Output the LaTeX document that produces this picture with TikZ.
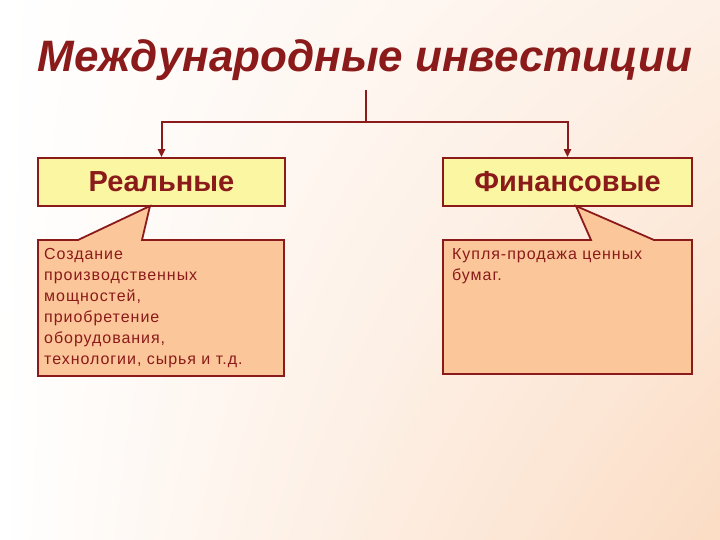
\documentclass[tikz,border=0pt]{standalone}
\usepackage{fontspec}
\setmainfont{Liberation Sans}
\usetikzlibrary{arrows.meta,shadings}
\definecolor{dred}{HTML}{8B1A1A}
\definecolor{ybox}{HTML}{FAF6A2}
\definecolor{peach}{HTML}{FBC79A}
\definecolor{bgr}{HTML}{FBDCC4}
\definecolor{bgm}{HTML}{FDF0E6}
\begin{document}
\begin{tikzpicture}[x=1pt,y=-1pt,
  hbox/.style={draw=dred,line width=1.8pt,fill=ybox,text=dred,font=\fontsize{29}{32}\selectfont\bfseries},
  cbox/.style={draw=dred,line width=1.8pt,fill=peach},
  ctext/.style={text=dred,font=\fontsize{16}{21}\selectfont\addfontfeature{LetterSpace=6},align=left,anchor=north west,inner sep=0pt},
  conn/.style={dred,line width=2pt},
  arr/.style={conn,-{Triangle[length=8pt,width=7pt]}}]
\shade[upper left=white,upper right=bgm,lower left=white,lower right=bgr] (0,0) rectangle (720,540);
\useasboundingbox (0,0) rectangle (720,540);
\node[text=dred,font=\fontsize{44}{48}\selectfont\bfseries\itshape] (title) at (365,60) {Международные инвестиции};
\node[hbox,minimum width=247pt,minimum height=48pt] (real) at (161.5,182) {Реальные};
\node[hbox,minimum width=249pt,minimum height=48pt] (fin) at (567.5,182) {Финансовые};
\coordinate (top) at (366,90);
\coordinate (mid) at (366,122);
\draw[conn] (top) -- (mid);
\draw[arr] (mid) -| (real.north);
\draw[arr] (mid) -| (fin.north);
\draw[cbox] (38,240) -- (78,240) -- (150,206) -- (142,240) -- (284,240) -- (284,376) -- (38,376) -- cycle;
\draw[cbox] (443,240) -- (591,240) -- (576,206) -- (654,240) -- (692,240) -- (692,374) -- (443,374) -- cycle;
\node[ctext] (t1) at (44,248) {Создание\\производственных\\мощностей,\\приобретение\\оборудования,\\технологии, сырья и т.д.};
\node[ctext] (t2) at (452,248) {Купля-продажа ценных\\бумаг.};
\end{tikzpicture}
\end{document}
